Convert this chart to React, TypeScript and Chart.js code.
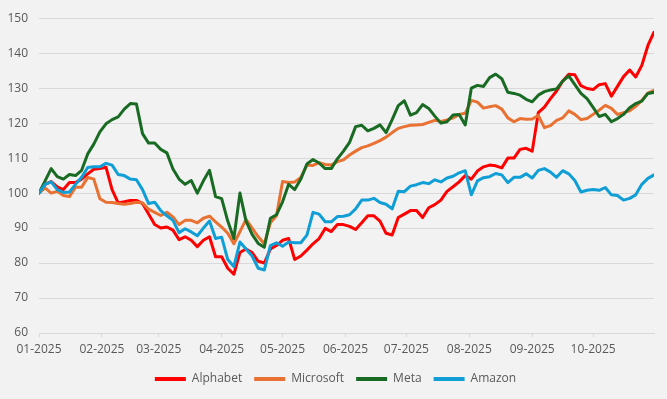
import { useEffect, useRef } from 'react';
import { Chart, registerables } from 'chart.js';

Chart.register(...registerables);

// Day of year (0 = 1 Jan 2025)
const DAYS = [
  0, 3, 6, 9, 12, 15, 18, 21, 24, 27,
  30, 33, 36, 39, 42, 45, 48, 51, 54, 57,
  60, 63, 66, 69, 72, 75, 78, 81, 84, 87,
  90, 93, 96, 99, 102, 105, 108, 111, 114, 117,
  120, 123, 126, 129, 132, 135, 138, 141, 144, 147,
  150, 153, 156, 159, 162, 165, 168, 171, 174, 177,
  180, 183, 186, 189, 192, 195, 198, 201, 204, 207,
  210, 213, 216, 219, 222, 225, 228, 231, 234, 237,
  240, 243, 246, 249, 252, 255, 258, 261, 264, 267,
  270, 273, 276, 279, 282, 285, 288, 291, 294, 297,
  300, 303,
];

const ALPHABET = [
  100, 102.5, 103.3, 101.8, 101, 103, 103, 104, 105.5, 106.8,
  107, 107.4, 101, 97.2, 97.5, 97.9, 97.9, 97, 94, 91,
  90, 90.3, 89.4, 86.7, 87.5, 86.5, 84.7, 86.5, 87.5, 81.8,
  81.8, 78.5, 76.8, 83, 84, 83, 80.5, 80, 84, 85,
  86.5, 87, 81, 82, 83.7, 85.5, 87, 89.9, 89, 91,
  91, 90.5, 89.6, 91.5, 93.5, 93.5, 92, 88.5, 88, 93,
  94, 95, 95, 93, 95.8, 96.7, 98, 100.5, 101.8, 103.2,
  105, 104, 106.3, 107.5, 108, 107.8, 107.2, 110, 110, 112.5,
  112.8, 112, 123, 124.6, 127, 129.2, 132, 134, 133.8, 130.7,
  129.9, 129.6, 131, 131.3, 127.7, 130.5, 133.3, 135.2, 133.2, 136.5,
  142.2, 146,
];

const MICROSOFT = [
  100, 101.5, 100, 100.5, 99.3, 99, 101.7, 101.7, 104.5, 104,
  98.4, 97.4, 97.3, 97, 96.8, 97, 97.4, 97.2, 95.4, 94.5,
  93.6, 94.5, 93.2, 91, 92.2, 92.2, 91.5, 92.8, 93.4, 91.8,
  90.3, 88.5, 85.5, 89, 92.5, 90, 87.5, 85.5, 91.5, 93.5,
  103.3, 103, 103.2, 104.5, 108, 107.9, 108.7, 108.2, 108, 109,
  109.5, 110.9, 112, 113, 113.5, 114.2, 115, 116, 117.3, 118.5,
  119, 119.4, 119.5, 119.6, 120.2, 120.8, 120.5, 120.9, 121.5, 122.5,
  122.8, 126.5, 126, 124.3, 124.7, 125, 124, 121.5, 120.4, 121.3,
  121.1, 121.2, 122.2, 118.7, 119.3, 120.8, 121.5, 123.5, 122.5, 121,
  121.3, 122.5, 123.7, 125.1, 124.2, 122.5, 123, 123.5, 124.8, 126.5,
  128.6, 129.4,
];

const META = [
  100, 103.5, 107, 104.7, 104, 105.3, 105, 106.5, 111.2, 114,
  117.5, 119.8, 121, 121.8, 124, 125.6, 125.5, 117, 114.3, 114.3,
  112.5, 111.5, 106.9, 104, 102.5, 103.6, 100, 103.5, 106.5, 99,
  98.4, 92, 87, 100, 92, 88.2, 85.6, 84.5, 92.8, 93.8,
  97.5, 102.5, 101, 104, 108.3, 109.6, 108.6, 107, 107, 109.8,
  112, 114.5, 119, 119.4, 117.8, 118.5, 119.5, 117.3, 121, 125,
  126.4, 122.3, 123, 125.3, 124.2, 122, 120, 120.4, 122.3, 122.5,
  119.5, 130, 130.8, 130.5, 133, 134, 132.7, 128.8, 128.5, 128,
  126.8, 126.1, 128, 129, 129.5, 129.8, 132, 133.5, 131, 128.5,
  127, 124.5, 121.9, 122.5, 120.4, 121.3, 122.5, 124.4, 125.6, 126.3,
  128.5, 128.8,
];

const AMAZON = [
  100, 102.5, 103.2, 101, 100.2, 100.3, 102.5, 104.5, 107.3, 107.5,
  107.5, 108.5, 108, 105.3, 105, 104, 103.8, 101, 97, 97.4,
  95, 93.5, 92.2, 88.7, 89.8, 88.9, 87.8, 90, 92, 87,
  87.4, 81, 79, 86, 84, 82, 78.5, 78, 85, 85.8,
  84.8, 86, 85.8, 85.8, 88, 94.5, 94, 91.8, 91.8, 93.3,
  93.4, 93.8, 95.5, 98, 98, 98.5, 97.3, 96.8, 95.5, 100.5,
  100.4, 102, 102.4, 103, 102.7, 103.8, 103.2, 104.3, 104.8, 105.8,
  106.4, 99.5, 103.5, 104.4, 104.7, 105.6, 105.2, 103, 104.5, 104.5,
  105.5, 104.3, 106.5, 107, 106, 104.5, 106.4, 105.5, 103.6, 100.3,
  100.8, 101, 100.8, 101.6, 99.5, 99.3, 98, 98.5, 99.5, 102.5,
  104.2, 105.2,
];

const MONTH_TICKS = [0, 31, 59, 90, 120, 151, 181, 212, 243, 273];
const MONTH_LABELS = [
  '01-2025', '02-2025', '03-2025', '04-2025', '05-2025',
  '06-2025', '07-2025', '08-2025', '09-2025', '10-2025',
];

const SERIES = [
  { label: 'Alphabet', values: ALPHABET, color: '#FF0000' },
  { label: 'Microsoft', values: MICROSOFT, color: '#E97132' },
  { label: 'Meta', values: META, color: '#196B24' },
  { label: 'Amazon', values: AMAZON, color: '#0F9ED5' },
];

const FONT = "'Open Sans', 'Liberation Sans', Arial, sans-serif";
const TEXT = '#595959';
const GRID = '#d9d9d9';

const shiftLegend = {
  id: 'shiftLegend',
  afterLayout(chart: any) {
    if (chart.legend) {
      chart.legend.left -= 11;
      chart.legend.right -= 11;
    }
  },
};

export default function App() {
  const ref = useRef<HTMLCanvasElement>(null);

  useEffect(() => {
    if (!ref.current) return;
    const n = SERIES.length;
    const chart = new Chart(ref.current, {
      type: 'line',
      data: {
        datasets: SERIES.map((s, i) => ({
          label: s.label,
          data: DAYS.map((d, j) => ({ x: d, y: s.values[j] })),
          borderColor: s.color,
          backgroundColor: s.color,
          borderWidth: 3,
          pointRadius: 0,
          pointHoverRadius: 0,
          tension: 0,
          borderJoinStyle: 'round' as const,
          borderCapStyle: 'round' as const,
          fill: false,
          order: n - i,
        })),
      },
      plugins: [shiftLegend],
      options: {
        responsive: false,
        animation: false,
        events: [],
        layout: { padding: { left: 0, right: 13, top: 14, bottom: 4 } },
        font: { family: FONT, size: 12 },
        plugins: {
          tooltip: { enabled: false },
          legend: {
            position: 'bottom',
            fullSize: false,
            labels: {
              font: { family: FONT, size: 12 },
              color: TEXT,
              boxWidth: 31,
              boxHeight: 4,
              padding: 12,
              sort: (a: any, b: any) => a.datasetIndex - b.datasetIndex,
              generateLabels: (c: any) =>
                Chart.defaults.plugins.legend.labels
                  .generateLabels(c)
                  .map((it: any) => ({ ...it, lineWidth: 0, fillStyle: it.strokeStyle })),
            },
          },
        },
        scales: {
          x: {
            type: 'linear',
            min: 0,
            max: 303,
            afterFit: (scale: any) => {
              scale.height = 28;
            },
            afterBuildTicks: (scale: any) => {
              scale.ticks = MONTH_TICKS.map((v) => ({ value: v }));
            },
            ticks: {
              autoSkip: false,
              maxRotation: 0,
              minRotation: 0,
              padding: 5,
              color: TEXT,
              font: { family: FONT, size: 12 },
              callback: (_v: any, i: number) => MONTH_LABELS[i],
            },
            grid: {
              drawOnChartArea: false,
              drawTicks: true,
              tickLength: 4,
              color: GRID,
              lineWidth: 1,
            },
            border: { display: true, color: GRID, width: 1 },
          },
          y: {
            type: 'linear',
            min: 60,
            max: 150,
            afterFit: (scale: any) => {
              scale.width = 39;
            },
            ticks: {
              stepSize: 10,
              padding: 11,
              color: TEXT,
              font: { family: FONT, size: 12 },
            },
            grid: { color: GRID, lineWidth: 1, drawTicks: false },
            border: { display: false },
          },
        },
      },
    });
    return () => chart.destroy();
  }, []);

  return (
    <div
      style={{
        position: 'fixed',
        left: 0,
        top: 0,
        width: 667,
        height: 399,
        background: '#f2f2f2',
      }}
    >
      <canvas
        ref={ref}
        width={667}
        height={399}
        style={{ display: 'block', width: 667, height: 399 }}
      />
    </div>
  );
}
